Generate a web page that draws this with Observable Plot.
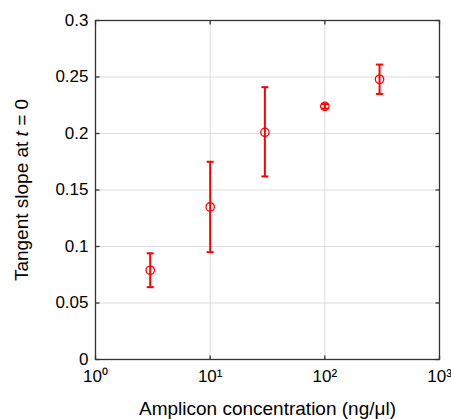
<!DOCTYPE html>
<html>
<head>
<meta charset="utf-8">
<script src="https://cdn.jsdelivr.net/npm/d3@7"></script>
<script src="https://cdn.jsdelivr.net/npm/@observablehq/plot@0.6"></script>
<style>
  html, body { margin: 0; padding: 0; background: #fff; }
</style>
</head>
<body>
<div id="chart"></div>
<script>
const concentration = [3, 10, 30, 100, 300];
const slope = [0.079, 0.135, 0.201, 0.224, 0.248];
const lower = [0.064, 0.095, 0.162, 0.222, 0.235];
const upper = [0.094, 0.175, 0.241, 0.226, 0.261];
const xTicks = [1, 10, 100, 1000];
const xTickLabels = ["10⁰", "10¹", "10²", "10³"];
const yTicks = [0, 0.05, 0.1, 0.15, 0.2, 0.25, 0.3];
const yTickLabels = ["0", "0.05", "0.1", "0.15", "0.2", "0.25", "0.3"];
const xLabel = "Amplicon concentration (ng/μl)";
const yLabel = "Tangent slope at t = 0";

const data = concentration.map((c, i) => ({c, s: slope[i], lo: lower[i], hi: upper[i]}));
const red = "#ff0000";
const axisColor = "#333";
const lineSym = (x1, y1, x2, y2) => ({ draw(context) { context.moveTo(x1, y1); context.lineTo(x2, y2); } });
const capSymbol = lineSym(-3.5, 0, 3.5, 0);

const chart = Plot.plot({
  width: 451,
  height: 419,
  marginLeft: 95,
  marginRight: 12,
  marginTop: 20,
  marginBottom: 60,
  style: { fontFamily: "'Liberation Sans', Arial, Helvetica, sans-serif", fontSize: "17px", background: "#fff", color: "#000" },
  x: { type: "log", domain: [1, 1000], axis: null },
  y: { domain: [0, 0.3], axis: null },
  marks: [
    Plot.gridX(xTicks, { stroke: "#dcdcdc", strokeOpacity: 1 }),
    Plot.gridY(yTicks, { stroke: "#dcdcdc", strokeOpacity: 1 }),
    // tick labels
    Plot.text(xTicks, { x: d => d, frameAnchor: "bottom", lineAnchor: "bottom", dy: 22, text: (d, i) => xTickLabels[i], fontSize: 17 }),
    Plot.text(yTicks, { y: d => d, frameAnchor: "left", textAnchor: "end", dx: -7, text: (d, i) => yTickLabels[i], fontSize: 17 }),
    // inward ticks on all four sides
    Plot.dot(xTicks, { x: d => d, frameAnchor: "bottom", symbol: lineSym(0, 0, 0, -4), stroke: axisColor, strokeWidth: 1.3, fill: "none" }),
    Plot.dot(xTicks, { x: d => d, frameAnchor: "top", symbol: lineSym(0, 0, 0, 4), stroke: axisColor, strokeWidth: 1.3, fill: "none" }),
    Plot.dot(yTicks, { y: d => d, frameAnchor: "left", symbol: lineSym(0, 0, 4, 0), stroke: axisColor, strokeWidth: 1.3, fill: "none" }),
    Plot.dot(yTicks, { y: d => d, frameAnchor: "right", symbol: lineSym(0, 0, -4, 0), stroke: axisColor, strokeWidth: 1.3, fill: "none" }),
    Plot.frame({ stroke: axisColor, strokeWidth: 1.3 }),
    // error bars and points
    Plot.ruleX(data, { x: "c", y1: "lo", y2: "hi", stroke: red, strokeWidth: 2 }),
    Plot.dot(data, { x: "c", y: "lo", symbol: capSymbol, stroke: red, strokeWidth: 2, fill: "none" }),
    Plot.dot(data, { x: "c", y: "hi", symbol: capSymbol, stroke: red, strokeWidth: 2, fill: "none" }),
    Plot.dot(data, { x: "c", y: "s", r: 4.2, stroke: red, strokeWidth: 1.3, fill: "none" }),
    // axis titles
    Plot.text([xLabel], { frameAnchor: "bottom", textAnchor: "middle", lineAnchor: "bottom", dy: 55, text: d => d, fontSize: 19 }),
    Plot.text([yLabel], { frameAnchor: "left", textAnchor: "middle", lineAnchor: "bottom", dx: -68, rotate: -90, text: d => d, fontSize: 19, className: "ylab" })
  ]
});

document.getElementById("chart").appendChild(chart);

// italicize the "t" in the y label
d3.select(chart).selectAll("g.ylab text").each(function() {
  const t = d3.select(this);
  t.text(null);
  t.append("tspan").text("Tangent slope at ");
  t.append("tspan").attr("font-style", "italic").text("t");
  t.append("tspan").text(" = 0");
});
</script>
</body>
</html>
